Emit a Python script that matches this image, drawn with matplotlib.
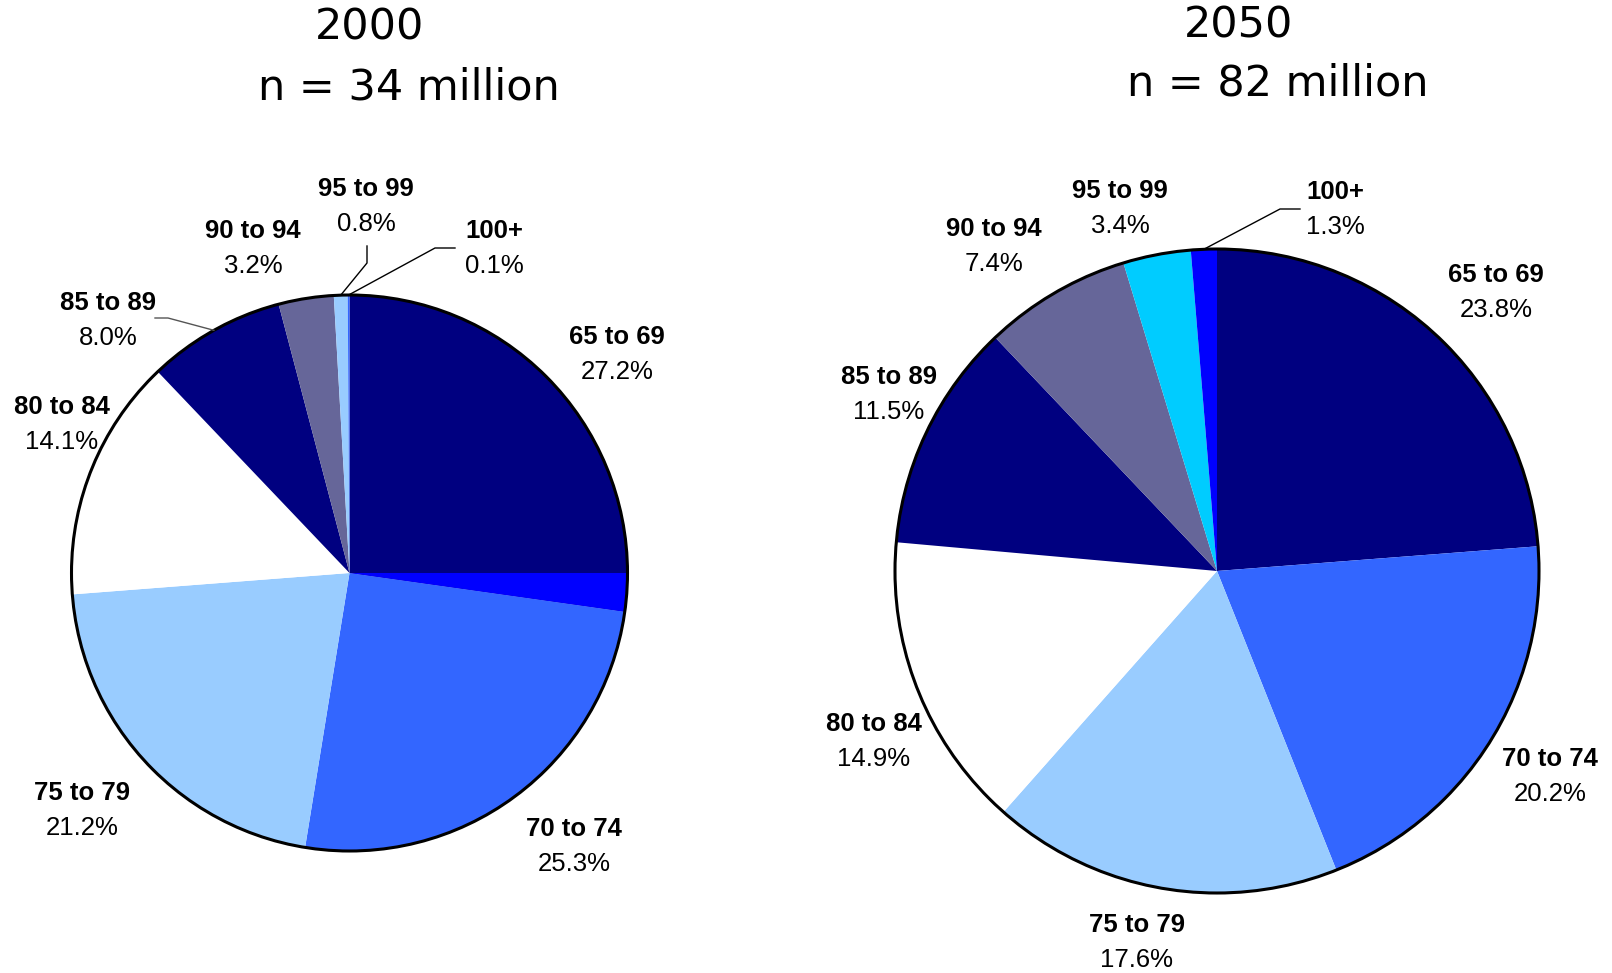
import numpy as np
import matplotlib.pyplot as plt
from matplotlib.patches import Circle, Wedge

plt.rcParams['font.family'] = ['Liberation Sans', 'DejaVu Sans']

ages = ['65 to 69', '70 to 74', '75 to 79', '80 to 84',
        '85 to 89', '90 to 94', '95 to 99', '100+']
pct_2000 = [27.2, 25.3, 21.2, 14.1, 8.0, 3.2, 0.8, 0.1]
pct_2050 = [23.8, 20.2, 17.6, 14.9, 11.5, 7.4, 3.4, 1.3]
colors_2000 = ['#000080', '#3366FF', '#99CCFF', '#FFFFFF',
               '#000080', '#666699', '#99CCFF', '#3366FF']
colors_2050 = ['#000080', '#3366FF', '#99CCFF', '#FFFFFF',
               '#000080', '#666699', '#00CCFF', '#0000FF']

W, H = 1612, 973
fig = plt.figure(figsize=(W / 100, H / 100), dpi=100)
ax = fig.add_axes([0, 0, 1, 1])


def Y(y):
    # pixel row from top -> data y
    return H - y


def draw_pie(vals, cols, cx, cy, r):
    ax.pie(vals, colors=cols, startangle=90, counterclock=False,
           center=(cx, Y(cy)), radius=r, wedgeprops=dict(linewidth=0),
           frame=True)
    ax.add_patch(Circle((cx, Y(cy)), r, fill=False, ec='black', lw=2.2, zorder=5))


def edge_point(vals, i, cx, cy, r):
    tot = sum(vals)
    start = 90 - 360 * sum(vals[:i]) / tot
    mid = start - 180 * vals[i] / tot
    a = np.radians(mid)
    return cx + r * np.cos(a), Y(cy) + r * np.sin(a)


def label(x, y, name, pct):
    ax.text(x, Y(y), name, ha='center', va='center', fontsize=18.5, fontweight='bold')
    ax.text(x, Y(y + 35), pct, ha='center', va='center', fontsize=18.5)


# 2000
cx1, cy1, r1 = 349.5, 573, 278
draw_pie(pct_2000, colors_2000, cx1, cy1, r1)
# the first wedge past 3 o'clock is drawn in bright blue in the original
end0 = 90 - 360 * pct_2000[0] / sum(pct_2000)
ax.add_patch(Wedge((cx1, Y(cy1)), r1, end0, 0, color='#0000FF', lw=0, zorder=3))

pos_2000 = [(617, 337), (574, 829), (82, 793), (62, 407),
            (108, 303), (253, 231), (366, 189), (494, 231)]
for (x, y), n, v in zip(pos_2000, ages, pct_2000):
    label(x, y, n, f'{v:.1f}%')

# leader lines 2000
px, py = edge_point(pct_2000, 4, cx1, cy1, r1)
ax.plot([155, 168, px], [Y(318), Y(318), py], color='#555555', lw=1, zorder=6)
px, py = edge_point(pct_2000, 6, cx1, cy1, r1)
ax.plot([367, 367, px], [Y(246), Y(263), py], color='black', lw=1, zorder=6)
px, py = edge_point(pct_2000, 7, cx1, cy1, r1)
ax.plot([455, 435, px], [Y(248), Y(248), py], color='black', lw=1, zorder=6)

# 2050
cx2, cy2, r2 = 1217, 571, 322
draw_pie(pct_2050, colors_2050, cx2, cy2, r2)
pos_2050 = [(1496, 275), (1550, 759), (1137, 925), (874, 724),
            (889, 377), (994, 229), (1120, 191), (1335, 192)]
for (x, y), n, v in zip(pos_2050, ages, pct_2050):
    label(x, y, n, f'{v:.1f}%')

px, py = edge_point(pct_2050, 7, cx2, cy2, r2)
ax.plot([1300, 1280, px], [Y(209), Y(209), py], color='black', lw=1, zorder=6)

ax.set_xlim(0, W)
ax.set_ylim(0, H)
ax.set_aspect('auto')
ax.axis('off')

# titles
tfont = dict(family='DejaVu Sans', fontsize=31, ha='center', va='center')
ax.text(370, Y(28), '2000', **tfont)
ax.text(409, Y(88), 'n = 34 million', **tfont)
ax.text(1239, Y(25), '2050', **tfont)
ax.text(1278, Y(84), 'n = 82 million', **tfont)

fig.savefig('out.png', dpi=100, facecolor='white')
